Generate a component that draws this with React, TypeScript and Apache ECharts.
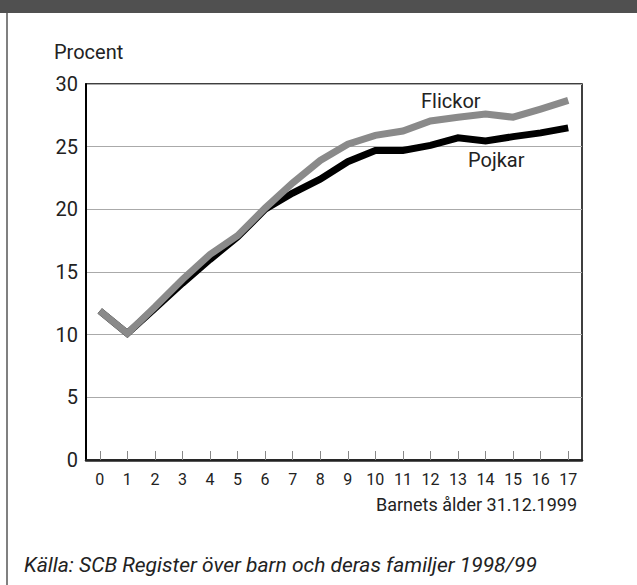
import React, { useEffect, useRef } from "react";
import * as echarts from "echarts";

const ages = ["0","1","2","3","4","5","6","7","8","9","10","11","12","13","14","15","16","17"];
const pojkar = [11.9, 10.1, 12.1, 14.1, 16.0, 17.8, 20.0, 21.3, 22.4, 23.8, 24.7, 24.7, 25.1, 25.7, 25.45, 25.8, 26.1, 26.5];
const flickor = [11.9, 10.1, 12.2, 14.4, 16.4, 17.9, 20.1, 22.1, 23.9, 25.2, 25.9, 26.25, 27.05, 27.35, 27.6, 27.35, 28.0, 28.7];
const yTicks = { min: 0, max: 30, interval: 5 };

const FONT = "Roboto, 'Liberation Sans', Arial, sans-serif";

export default function App() {
  const ref = useRef<HTMLDivElement>(null);
  useEffect(() => {
    if (!ref.current) return;
    const chart = echarts.init(ref.current, undefined, { renderer: "svg" });
    chart.setOption({
      animation: false,
      backgroundColor: "#ffffff",
      textStyle: { fontFamily: FONT },
      grid: {
        left: 86, right: 55, top: 84, bottom: 125,
        show: true, borderColor: "#000", borderWidth: 1.5, backgroundColor: "transparent",
      },
      xAxis: {
        type: "category",
        data: ages,
        boundaryGap: true,
        axisLine: { show: true, lineStyle: { color: "#222", width: 2.5 } },
        axisTick: { show: true, inside: true, alignWithLabel: true, length: 9, lineStyle: { color: "#888", width: 1 } },
        axisLabel: { color: "#222", fontSize: 16, margin: 11, fontFamily: FONT },
        splitLine: { show: false },
      },
      yAxis: {
        type: "value",
        min: yTicks.min, max: yTicks.max, interval: yTicks.interval,
        axisLine: { show: true, lineStyle: { color: "#000", width: 2 } },
        axisTick: { show: false },
        axisLabel: { color: "#222", fontSize: 20, margin: 8, fontFamily: FONT },
        splitLine: { show: true, lineStyle: { color: "#aaaaaa", width: 1.2 } },
      },
      series: [
        {
          name: "Pojkar", type: "line", data: pojkar, symbol: "none",
          lineStyle: { color: "#000000", width: 7, join: "miter" }, z: 3,
        },
        {
          name: "Flickor", type: "line", data: flickor, symbol: "none",
          lineStyle: { color: "#8a8a8a", width: 7, join: "miter" }, z: 4,
        },
      ],
      graphic: [
        { type: "rect", left: 0, top: 0, shape: { width: 637, height: 13 }, style: { fill: "#505050" } },
        { type: "rect", left: 6, top: 13, shape: { width: 2, height: 572 }, style: { fill: "#808080" } },
        { type: "text", left: 54, top: 42, style: { text: "Procent", fontSize: 20, fill: "#222", fontFamily: FONT } },
        { type: "text", left: 421, top: 91, style: { text: "Flickor", fontSize: 20, fill: "#222", fontFamily: FONT } },
        { type: "text", left: 468, top: 150, style: { text: "Pojkar", fontSize: 20, fill: "#222", fontFamily: FONT } },
        { type: "text", right: 60, top: 495, style: { text: "Barnets ålder 31.12.1999", fontSize: 18, fill: "#222", fontFamily: FONT } },
        { type: "text", left: 24, top: 554, style: { text: "Källa: SCB Register över barn och deras familjer 1998/99", fontSize: 21, fontStyle: "italic", fill: "#222", fontFamily: FONT } },
      ],
    });
    return () => chart.dispose();
  }, []);
  return <div ref={ref} style={{ position: "absolute", left: 0, top: 0, width: 637, height: 585 }} />;
}
